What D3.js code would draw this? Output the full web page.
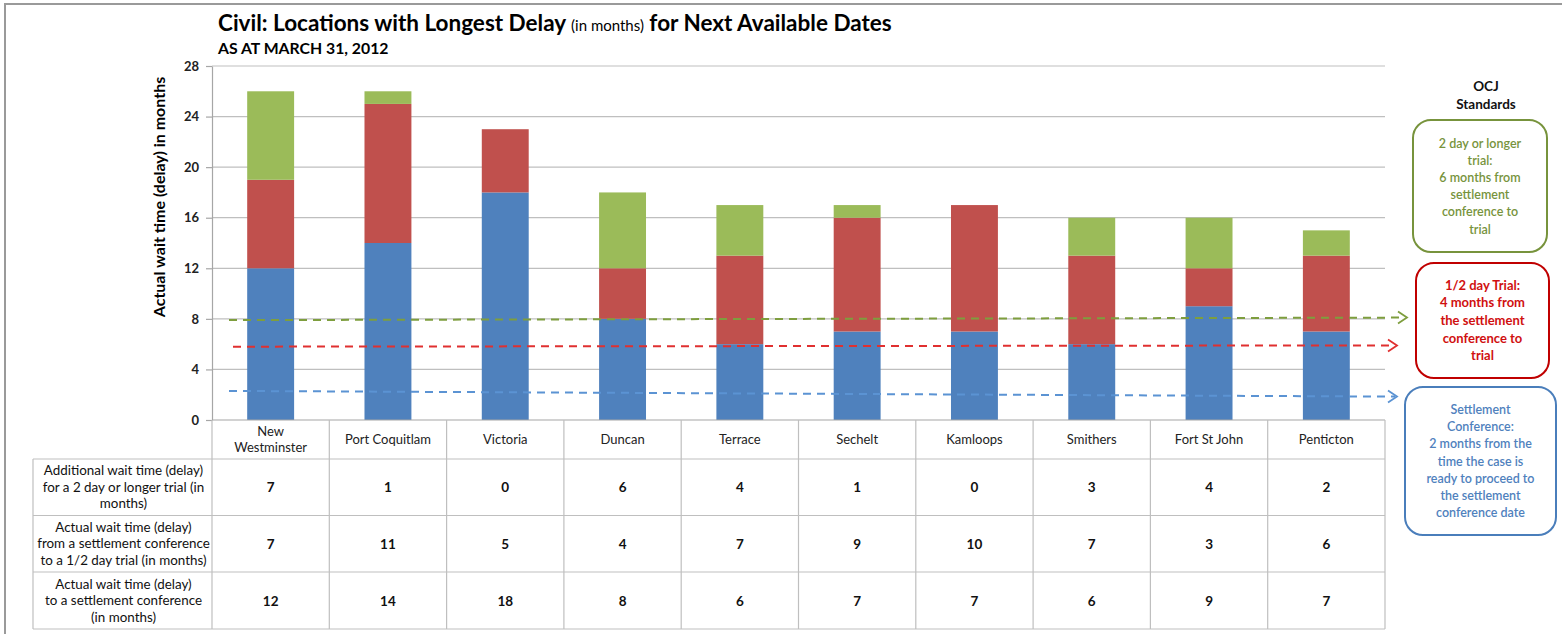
<!DOCTYPE html>
<html>
<head>
<meta charset="utf-8">
<script src="https://cdn.jsdelivr.net/npm/d3@7"></script>
<style>
  html, body { margin: 0; padding: 0; background: #fff; }
  svg { display: block; font-family: Lato, "Open Sans", sans-serif; }
</style>
</head>
<body>
<svg id="chart" width="1562" height="634"></svg>
<script>
// ---------------- DATA ----------------
const categories = ["New Westminster", "Port Coquitlam", "Victoria", "Duncan", "Terrace",
                    "Sechelt", "Kamloops", "Smithers", "Fort St John", "Penticton"];
const categoryLines = [["New", "Westminster"], ["Port Coquitlam"], ["Victoria"], ["Duncan"], ["Terrace"],
                       ["Sechelt"], ["Kamloops"], ["Smithers"], ["Fort St John"], ["Penticton"]];
const settlementConference = [12, 14, 18, 8, 6, 7, 7, 6, 9, 7];
const halfDayTrial = [7, 11, 5, 4, 7, 9, 10, 7, 3, 6];
const longerTrial = [7, 1, 0, 6, 4, 1, 0, 3, 4, 2];
const yTicks = [0, 4, 8, 12, 16, 20, 24, 28];

const rowLabels = [
  ["Additional wait time (delay)", "for a 2 day or longer trial (in", "months)"],
  ["Actual wait time (delay)", "from a settlement conference", "to a 1/2 day trial (in months)"],
  ["Actual wait time (delay)", "to a settlement conference", "(in months)"]
];
const tableRows = [longerTrial, halfDayTrial, settlementConference];

// OCJ standard reference lines (value in months at start and end of the dashed arrow)
const standardStart = [7.9, 5.8, 2.3];
const standardEnd = [8.1, 5.9, 1.85];
const standardText = [
  ["2 day or longer", "trial:", "6 months from", "settlement", "conference to", "trial"],
  ["1/2 day Trial:", "4 months from", "the settlement", "conference to", "trial"],
  ["Settlement", "Conference:", "2 months from the", "time the case is", "ready to proceed to", "the settlement", "conference date"]
];

// ---------------- STYLE / LAYOUT ----------------
const seriesColors = ["#4F81BD", "#C0504D", "#9BBB59"];
const stdColors = ["#77933C", "#C00000", "#4A7EBB"];
const stdLineColors = ["#7E9E3E", "#E03030", "#5B93D3"];
const stdTextColors = ["#77933C", "#D01010", "#4F81BD"];

const plotLeft = 212, plotRight = 1385, plotTop = 66, plotBottom = 420;
const headerBottom = 459;
const rowTops = [459, 515.5, 572, 629];
const labelLeft = 33;

const svg = d3.select("#chart");

// outer frame
svg.append("rect").attr("x", 5).attr("y", 4).attr("width", 1600).attr("height", 660)
  .attr("fill", "none").attr("stroke", "#9a9a9a").attr("stroke-width", 2);

// title
const title = svg.append("text").attr("x", 218).attr("y", 31)
  .attr("fill", "#000").attr("font-weight", "bold").attr("font-size", 22.5);
title.append("tspan").text("Civil: Locations with Longest Delay ");
title.append("tspan").attr("font-size", 15).attr("font-weight", "normal").text("(in months)");
title.append("tspan").text(" for Next Available Dates");

svg.append("text").attr("x", 218).attr("y", 54).attr("font-weight", "bold")
  .attr("font-size", 15.8).attr("fill", "#000").text("AS AT MARCH 31, 2012");

// scales
const x = d3.scaleBand().domain(categories).range([plotLeft, plotRight]).paddingInner(0).paddingOuter(0);
const y = d3.scaleLinear().domain([0, 28]).range([plotBottom, plotTop]);
const barW = x.bandwidth() * 0.4;

// gridlines
svg.append("g").selectAll("line").data(yTicks.filter(d => d > 0)).join("line")
  .attr("x1", plotLeft).attr("x2", plotRight)
  .attr("y1", d => y(d)).attr("y2", d => y(d))
  .attr("stroke", "#BFBFBF").attr("stroke-width", 1.2);

// y axis
const yAxis = svg.append("g").attr("transform", `translate(${plotLeft},0)`)
  .call(d3.axisLeft(y).tickValues(yTicks).tickSize(6).tickSizeOuter(0).tickPadding(7));
yAxis.select(".domain").attr("stroke", "#A6A6A6").attr("stroke-width", 1.2);
yAxis.selectAll(".tick line").attr("stroke", "#A6A6A6").attr("stroke-width", 1.2);
yAxis.selectAll(".tick text").attr("font-size", 13).attr("font-family", "Lato, sans-serif")
  .attr("fill", "#222").attr("font-weight", "bold");

// y axis title
svg.append("text").attr("transform", `translate(165,197) rotate(-90)`)
  .attr("text-anchor", "middle").attr("font-size", 16).attr("font-weight", "bold")
  .attr("fill", "#000").text("Actual wait time (delay) in months");

// stacked bars
const stackData = categories.map((c, i) => ({
  cat: c, s0: settlementConference[i], s1: halfDayTrial[i], s2: longerTrial[i]
}));
const stack = d3.stack().keys(["s0", "s1", "s2"])(stackData);
svg.append("g").selectAll("g").data(stack).join("g")
  .attr("fill", (d, i) => seriesColors[i])
  .selectAll("rect").data(d => d).join("rect")
  .attr("x", d => x(d.data.cat) + (x.bandwidth() - barW) / 2)
  .attr("width", barW)
  .attr("y", d => y(d[1]))
  .attr("height", d => y(d[0]) - y(d[1]));

// x axis baseline
svg.append("line").attr("x1", plotLeft).attr("x2", plotRight)
  .attr("y1", plotBottom).attr("y2", plotBottom)
  .attr("stroke", "#A6A6A6").attr("stroke-width", 1.2);

// ---- data table ----
const tbl = svg.append("g");
const gridColor = "#BFBFBF";
const colEdges = categories.map(c => x(c)).concat([plotRight]);
tbl.selectAll("line.v").data(colEdges).join("line").attr("class", "v")
  .attr("x1", d => d).attr("x2", d => d)
  .attr("y1", plotBottom).attr("y2", rowTops[3])
  .attr("stroke", gridColor).attr("stroke-width", 1.2);
tbl.append("line").attr("x1", labelLeft).attr("x2", labelLeft)
  .attr("y1", rowTops[0]).attr("y2", rowTops[3]).attr("stroke", gridColor).attr("stroke-width", 1.2);
tbl.selectAll("line.h").data(rowTops).join("line").attr("class", "h")
  .attr("x1", labelLeft).attr("x2", plotRight)
  .attr("y1", d => d).attr("y2", d => d)
  .attr("stroke", gridColor).attr("stroke-width", 1.2);

// category labels
categories.forEach((c, i) => {
  const lines = categoryLines[i];
  const cx = x(c) + x.bandwidth() / 2;
  const mid = (plotBottom + headerBottom) / 2;
  const t = tbl.append("text").attr("x", cx).attr("text-anchor", "middle")
    .attr("font-size", 13).attr("fill", "#222");
  lines.forEach((l, k) => {
    t.append("tspan").attr("x", cx)
      .attr("y", mid + 4.5 + (k - (lines.length - 1) / 2) * 16).text(l);
  });
});

// row labels & values
rowLabels.forEach((lines, r) => {
  const mid = (rowTops[r] + rowTops[r + 1]) / 2;
  const t = tbl.append("text").attr("text-anchor", "middle").attr("font-size", 13.4).attr("fill", "#111");
  lines.forEach((l, k) => {
    t.append("tspan").attr("x", (labelLeft + plotLeft) / 2 + 1)
      .attr("y", mid + 4.5 + (k - 1) * 16.5).text(l);
  });
  tableRows[r].forEach((v, i) => {
    tbl.append("text").attr("x", x(categories[i]) + x.bandwidth() / 2)
      .attr("y", mid + 5).attr("text-anchor", "middle")
      .attr("font-size", 13.5).attr("font-weight", "bold").attr("fill", "#111").text(v);
  });
});

// ---- OCJ standards ----
svg.append("text").attr("x", 1486).attr("y", 91).attr("text-anchor", "middle")
  .attr("font-size", 13.5).attr("font-weight", "bold").attr("fill", "#111").text("OCJ");
svg.append("text").attr("x", 1486).attr("y", 109).attr("text-anchor", "middle")
  .attr("font-size", 13.5).attr("font-weight", "bold").attr("fill", "#111").text("Standards");

const boxes = [
  {x: 1413, y: 120, w: 134, h: 132},
  {x: 1416, y: 263, w: 133, h: 115},
  {x: 1405, y: 387, w: 151, h: 148}
];
const lineStarts = [229, 233, 229];
const arrowTips = [1407, 1397, 1397];

standardText.forEach((lines, i) => {
  const b = boxes[i];
  svg.append("rect").attr("x", b.x).attr("y", b.y).attr("width", b.w).attr("height", b.h)
    .attr("rx", 18).attr("ry", 18).attr("fill", "#fff")
    .attr("stroke", stdColors[i]).attr("stroke-width", 2);
  const lh = i === 1 ? 17.6 : 17.2;
  const cy = b.y + b.h / 2;
  const t = svg.append("text").attr("text-anchor", "middle").attr("font-size", i === 1 ? 13 : 12.5)
    .attr("font-weight", i === 1 ? "bold" : "600").attr("fill", stdTextColors[i]);
  lines.forEach((l, k) => {
    t.append("tspan").attr("x", b.x + b.w / 2)
      .attr("y", cy + 4.5 + (k - (lines.length - 1) / 2) * lh).text(l);
  });

  const y0 = y(standardStart[i]), y1 = y(standardEnd[i]);
  svg.append("line").attr("x1", lineStarts[i]).attr("x2", arrowTips[i] - 2)
    .attr("y1", y0).attr("y2", y1)
    .attr("stroke", stdLineColors[i]).attr("stroke-width", 2)
    .attr("stroke-dasharray", "8,6");
  svg.append("path")
    .attr("d", `M${arrowTips[i] - 9},${y1 - 6} L${arrowTips[i]},${y1} L${arrowTips[i] - 9},${y1 + 6}`)
    .attr("fill", "none").attr("stroke", stdLineColors[i]).attr("stroke-width", 1.8);
});
</script>
</body>
</html>
